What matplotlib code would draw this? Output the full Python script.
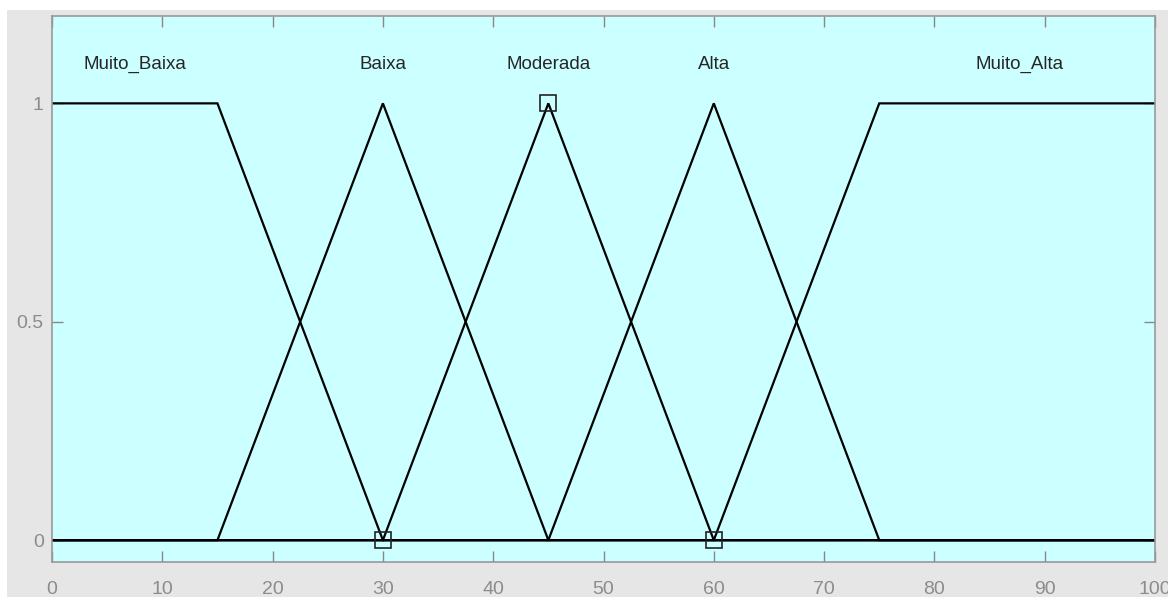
import numpy as np
import matplotlib.pyplot as plt
from matplotlib.patches import Rectangle

plt.rcParams['font.family'] = ['Liberation Sans', 'DejaVu Sans']

# universe of discourse and membership functions
x = np.array([0, 15, 30, 45, 60, 75, 100])
mf_names = ['Muito_Baixa', 'Baixa', 'Moderada', 'Alta', 'Muito_Alta']
mf_values = [
    [1, 1, 0, 0, 0, 0, 0],   # trapmf [0 0 15 30]
    [0, 0, 1, 0, 0, 0, 0],   # trimf [15 30 45]
    [0, 0, 0, 1, 0, 0, 0],   # trimf [30 45 60]
    [0, 0, 0, 0, 1, 0, 0],   # trimf [45 60 75]
    [0, 0, 0, 0, 0, 1, 1],   # trapmf [60 75 100 100]
]
label_x = [7.5, 30, 45, 60, 87.7]
label_y = 1.09

# highlighted points
mark_x = [30, 45, 60]
mark_y = [0, 1, 0]

W, H = 1168, 597
fig = plt.figure(figsize=(W / 100, H / 100), dpi=100)
fig.patch.set_facecolor('#e6e6e6')
# white strip along the top and left edges
fig.patches.append(Rectangle((0, 1 - 10 / H), 1, 10 / H, transform=fig.transFigure,
                             facecolor='white', edgecolor='none', zorder=-1))
fig.patches.append(Rectangle((0, 0), 7 / W, 1, transform=fig.transFigure,
                             facecolor='white', edgecolor='none', zorder=-1))

left, right, top, bottom = 52, 1155, 16, 562
ax = fig.add_axes([left / W, 1 - bottom / H, (right - left) / W, (bottom - top) / H])
ax.set_facecolor('#ccffff')

for name, vals in zip(mf_names, mf_values):
    ax.plot(x, vals, color='black', lw=1.6, solid_joinstyle='miter')

for name, lx in zip(mf_names, label_x):
    ax.text(lx, label_y, name, ha='center', va='center', fontsize=13.5, color='#262626')

ax.plot(mark_x, mark_y, 's', ms=11, mfc='none', mec='#222222', mew=1.2)

ax.set_xlim(0, 100)
ax.set_ylim(-0.05, 1.2)
ax.set_xticks(np.arange(0, 101, 10))
ax.set_yticks([0, 0.5, 1])
ax.set_yticklabels(['0', '0.5', '1'])
ax.tick_params(direction='in', length=8, width=1, color='#888888',
               labelcolor='#8c8c8c', labelsize=14, top=True, right=True,
               labeltop=False, labelright=False)
ax.tick_params(axis='x', pad=14)
ax.tick_params(axis='y', pad=6)
for s in ax.spines.values():
    s.set_color('#999999')
    s.set_linewidth(1.2)

fig.savefig('out.png', dpi=100, facecolor=fig.get_facecolor())
